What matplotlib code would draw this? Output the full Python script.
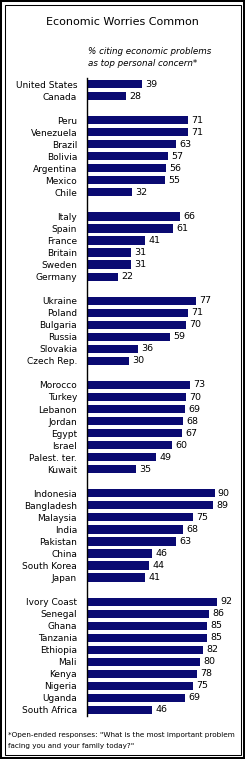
import matplotlib
matplotlib.use('Agg')
import matplotlib.pyplot as plt
from matplotlib.patches import Rectangle

# Data, grouped by region (top to bottom)
north_america = ['United States', 'Canada']
north_america_vals = [39, 28]
latin_america = ['Peru', 'Venezuela', 'Brazil', 'Bolivia', 'Argentina', 'Mexico', 'Chile']
latin_america_vals = [71, 71, 63, 57, 56, 55, 32]
western_europe = ['Italy', 'Spain', 'France', 'Britain', 'Sweden', 'Germany']
western_europe_vals = [66, 61, 41, 31, 31, 22]
eastern_europe = ['Ukraine', 'Poland', 'Bulgaria', 'Russia', 'Slovakia', 'Czech Rep.']
eastern_europe_vals = [77, 71, 70, 59, 36, 30]
middle_east = ['Morocco', 'Turkey', 'Lebanon', 'Jordan', 'Egypt', 'Israel', 'Palest. ter.', 'Kuwait']
middle_east_vals = [73, 70, 69, 68, 67, 60, 49, 35]
asia = ['Indonesia', 'Bangladesh', 'Malaysia', 'India', 'Pakistan', 'China', 'South Korea', 'Japan']
asia_vals = [90, 89, 75, 68, 63, 46, 44, 41]
africa = ['Ivory Coast', 'Senegal', 'Ghana', 'Tanzania', 'Ethiopia', 'Mali', 'Kenya', 'Nigeria',
          'Uganda', 'South Africa']
africa_vals = [92, 86, 85, 85, 82, 80, 78, 75, 69, 46]

groups = [(north_america, north_america_vals), (latin_america, latin_america_vals),
          (western_europe, western_europe_vals), (eastern_europe, eastern_europe_vals),
          (middle_east, middle_east_vals), (asia, asia_vals), (africa, africa_vals)]

# row positions with one empty row between groups
labels, values, rows = [], [], []
r = 0
for names, vals in groups:
    for n, v in zip(names, vals):
        labels.append(n)
        values.append(v)
        rows.append(r)
        r += 1
    r += 1
n_rows = r - 1

W, H = 245, 759
fig = plt.figure(figsize=(W / 100, H / 100), dpi=100)
bar_color = '#0a0a72'

# axes placed in pixel terms
left, right = 86.5, 86.5 + 142.3
top, bottom = 78, 716
ax = fig.add_axes([left / W, 1 - bottom / H, (right - left) / W, (bottom - top) / H])
ax.barh(rows, values, height=0.68, color=bar_color)
ax.set_xlim(0, 100)
ax.set_ylim(n_rows - 0.5, -0.5)
for y, v in zip(rows, values):
    ax.annotate(str(v), (v, y), xytext=(2.3, 0), textcoords='offset points',
                va='center', ha='left', fontsize=6.8, color='black')
ax.set_yticks(rows)
ax.set_yticklabels(labels, fontsize=6.5)
ax.tick_params(axis='y', length=0, pad=6.8)
ax.set_xticks([])
for s in ['top', 'right', 'bottom']:
    ax.spines[s].set_visible(False)
ax.spines['left'].set_linewidth(1.0)

fig.text(0.5, 1 - 22 / H, 'Economic Worries Common', ha='center', va='center', fontsize=8)
fig.text(88 / W, 1 - 52 / H, '% citing economic problems', ha='left', va='center',
         fontsize=6.3, style='italic')
fig.text(88 / W, 1 - 63 / H, 'as top personal concern*', ha='left', va='center',
         fontsize=6.3, style='italic')
fig.text(8 / W, 1 - 735 / H, '*Open-ended responses: "What is the most important problem',
         ha='left', va='center', fontsize=5.2)
fig.text(8 / W, 1 - 746 / H, 'facing you and your family today?"',
         ha='left', va='center', fontsize=5.2)

# double border
fig.patches.append(Rectangle((0, 0), 1, 1, transform=fig.transFigure, fill=False,
                             edgecolor='black', linewidth=2.9))
fig.patches.append(Rectangle((4.5 / W, 4.5 / H), 1 - 9 / W, 1 - 9 / H, transform=fig.transFigure,
                             fill=False, edgecolor='black', linewidth=0.75))

fig.savefig('out.png', dpi=100)
